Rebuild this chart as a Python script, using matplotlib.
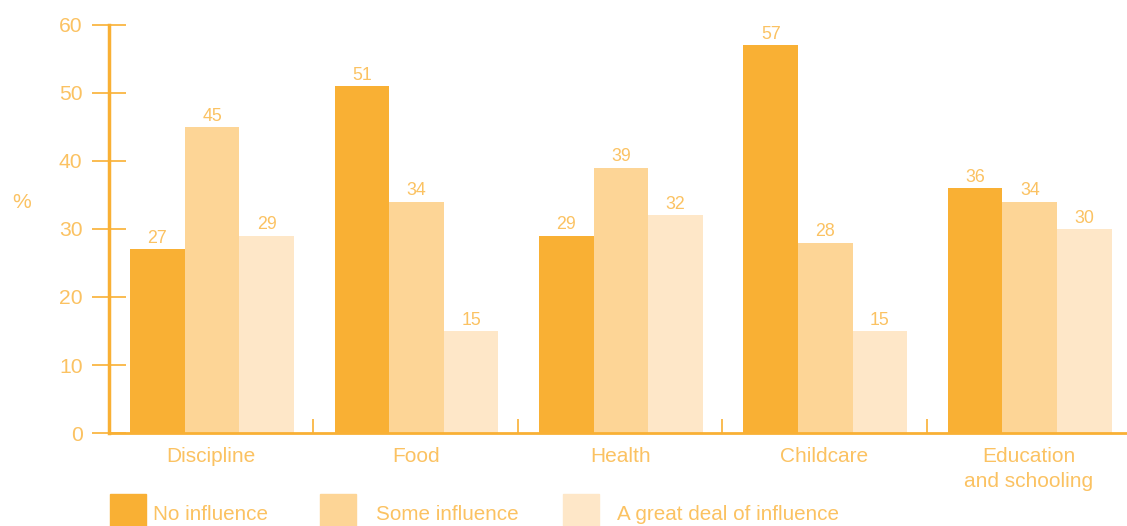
import numpy as np
import matplotlib.pyplot as plt
from matplotlib.patches import Rectangle

# Share of respondents by level of influence over each area
categories = ['Discipline', 'Food', 'Health', 'Childcare', 'Education\nand schooling']
no_influence = [27, 51, 29, 57, 36]
some_influence = [45, 34, 39, 28, 34]
great_deal = [29, 15, 32, 15, 30]
series_names = ['No influence', 'Some influence', 'A great deal of influence']
y_ticks = [0, 10, 20, 30, 40, 50, 60]

colors = ['#F9B034', '#FDD596', '#FEE7C8']
text_color = '#FBC262'
axis_color = '#F9B034'

plt.rcParams['font.family'] = ['Liberation Sans', 'DejaVu Sans']

fig = plt.figure(figsize=(11.27, 5.26), dpi=100)
ax = fig.add_axes([0.0967, 0.1768, 0.907, 0.7757])

x = np.arange(len(categories))
width = 0.267
for i, vals in enumerate([no_influence, some_influence, great_deal]):
    pos = x + (i - 1) * width + 0.004
    ax.bar(pos, vals, width, color=colors[i], zorder=2)
    for px, v in zip(pos, vals):
        ax.text(px, v + 0.35, str(v), ha='center', va='bottom',
                fontsize=12.8, color=text_color)

ax.set_xlim(-0.5, 4.5)
ax.set_ylim(0, 60)

for s in ['top', 'right']:
    ax.spines[s].set_visible(False)
ax.spines['left'].set_color(axis_color)
ax.spines['left'].set_linewidth(2.5)
ax.spines['bottom'].set_color(axis_color)
ax.spines['bottom'].set_linewidth(2)
ax.spines['left'].set_zorder(3)

ax.set_yticks(y_ticks)
ax.tick_params(axis='y', direction='inout', length=24, width=1.2,
               color=axis_color, labelcolor=text_color, labelsize=15.2, pad=7)

# group separators on the x axis, labels placed between them
ax.set_xticks(np.arange(0.5, 4.0, 1.0))
ax.set_xticklabels([])
ax.tick_params(axis='x', direction='in', length=10, width=1.2, color=axis_color)
for xi, name in zip(x, categories):
    ax.text(xi, -2.0, name, ha='center', va='top', fontsize=15,
            color=text_color, linespacing=1.45)

fig.text(0.0195, 0.615, '%', ha='center', va='center',
         fontsize=15.2, color=text_color)

# legend drawn as swatches along the bottom edge
legend_x = [0.0976, 0.284, 0.4996]
text_x = [0.1357, 0.3336, 0.5475]
for lx, tx, c, name in zip(legend_x, text_x, colors, series_names):
    fig.patches.append(Rectangle((lx, -0.01), 0.0320, 0.0705, transform=fig.transFigure,
                                 color=c, zorder=1))
    fig.text(tx, 0.022, name, ha='left', va='center', fontsize=14.9, color=text_color)

fig.savefig('out.png', dpi=100)
